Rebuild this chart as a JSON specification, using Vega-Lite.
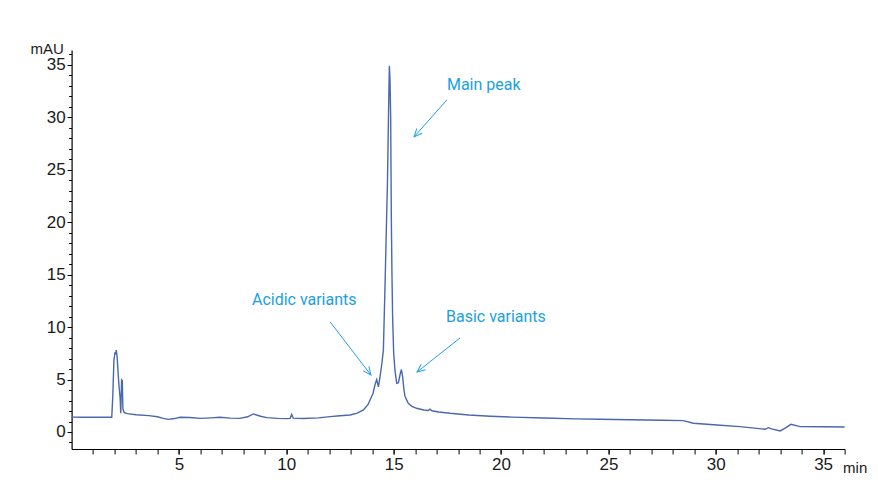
{
  "$schema": "https://vega.github.io/schema/vega-lite/v6.json",
  "width": 773,
  "height": 399,
  "autosize": {"type": "none"},
  "padding": {"left": 71.6, "top": 50, "right": 33, "bottom": 51},
  "background": "white",
  "config": {
    "view": {"stroke": null},
    "font": "Liberation Sans",
    "axis": {
      "grid": false,
      "domainColor": "#000000",
      "domainWidth": 1.2,
      "tickColor": "#000000",
      "labelColor": "#1a1a1a",
      "labelFont": "Liberation Sans",
      "labelFontSize": 17,
      "titleFont": "Liberation Sans",
      "titleFontSize": 15,
      "titleFontWeight": "normal",
      "titleColor": "#1a1a1a"
    }
  },
  "resolve": {"axis": {"x": "independent", "y": "independent"}},
  "datasets": {
    "chrom": [
      {"t": 0, "v": 1.42}, {"t": 0.5, "v": 1.4}, {"t": 1.0, "v": 1.4}, {"t": 1.5, "v": 1.4},
      {"t": 1.87, "v": 1.4}, {"t": 1.92, "v": 3.5}, {"t": 1.97, "v": 6.8}, {"t": 2.02, "v": 7.6},
      {"t": 2.05, "v": 7.4}, {"t": 2.08, "v": 7.8}, {"t": 2.12, "v": 7.2}, {"t": 2.17, "v": 5.5},
      {"t": 2.22, "v": 4.1}, {"t": 2.26, "v": 3.2}, {"t": 2.29, "v": 1.8}, {"t": 2.33, "v": 4.96},
      {"t": 2.36, "v": 4.9}, {"t": 2.39, "v": 2.2}, {"t": 2.45, "v": 1.85}, {"t": 2.6, "v": 1.75},
      {"t": 3.0, "v": 1.65}, {"t": 3.6, "v": 1.56}, {"t": 4.0, "v": 1.45}, {"t": 4.27, "v": 1.3},
      {"t": 4.5, "v": 1.2}, {"t": 4.8, "v": 1.28}, {"t": 5.05, "v": 1.4}, {"t": 5.5, "v": 1.38},
      {"t": 6.0, "v": 1.3}, {"t": 6.5, "v": 1.35}, {"t": 6.9, "v": 1.4}, {"t": 7.4, "v": 1.32},
      {"t": 7.84, "v": 1.3}, {"t": 8.2, "v": 1.45}, {"t": 8.46, "v": 1.72}, {"t": 8.8, "v": 1.5},
      {"t": 9.09, "v": 1.37}, {"t": 9.6, "v": 1.3}, {"t": 10.02, "v": 1.27}, {"t": 10.18, "v": 1.3},
      {"t": 10.25, "v": 1.68}, {"t": 10.32, "v": 1.32}, {"t": 10.8, "v": 1.28}, {"t": 11.5, "v": 1.35},
      {"t": 12.04, "v": 1.46}, {"t": 12.5, "v": 1.55}, {"t": 12.97, "v": 1.62}, {"t": 13.3, "v": 1.8},
      {"t": 13.59, "v": 2.1}, {"t": 13.8, "v": 2.6}, {"t": 13.9, "v": 3.05}, {"t": 14.04, "v": 3.69},
      {"t": 14.13, "v": 4.5}, {"t": 14.21, "v": 5.0}, {"t": 14.29, "v": 4.3}, {"t": 14.38, "v": 5.5},
      {"t": 14.45, "v": 6.5}, {"t": 14.52, "v": 7.8}, {"t": 14.6, "v": 14.2}, {"t": 14.66, "v": 19.5},
      {"t": 14.71, "v": 23.7}, {"t": 14.77, "v": 31.6}, {"t": 14.8, "v": 34.9}, {"t": 14.83, "v": 33.5},
      {"t": 14.86, "v": 30.0}, {"t": 14.89, "v": 20.5}, {"t": 14.92, "v": 15.0}, {"t": 14.95, "v": 11.0},
      {"t": 15.0, "v": 7.5}, {"t": 15.06, "v": 5.9}, {"t": 15.14, "v": 4.64}, {"t": 15.22, "v": 4.7},
      {"t": 15.3, "v": 5.5}, {"t": 15.36, "v": 5.95}, {"t": 15.42, "v": 5.2}, {"t": 15.48, "v": 4.0},
      {"t": 15.53, "v": 3.37}, {"t": 15.68, "v": 2.73}, {"t": 15.85, "v": 2.45}, {"t": 16.07, "v": 2.26},
      {"t": 16.4, "v": 2.1}, {"t": 16.6, "v": 2.05}, {"t": 16.69, "v": 2.18}, {"t": 16.78, "v": 2.02},
      {"t": 17.1, "v": 1.9}, {"t": 17.62, "v": 1.78}, {"t": 18.5, "v": 1.62}, {"t": 19.5, "v": 1.5},
      {"t": 20.5, "v": 1.42}, {"t": 22, "v": 1.33}, {"t": 23.5, "v": 1.25}, {"t": 24.6, "v": 1.21},
      {"t": 26, "v": 1.17}, {"t": 27.5, "v": 1.12}, {"t": 28.49, "v": 1.08}, {"t": 28.96, "v": 0.83},
      {"t": 30.05, "v": 0.67}, {"t": 31.13, "v": 0.51}, {"t": 32.3, "v": 0.26}, {"t": 32.45, "v": 0.41},
      {"t": 32.6, "v": 0.3}, {"t": 33.0, "v": 0.1}, {"t": 33.25, "v": 0.4}, {"t": 33.5, "v": 0.73},
      {"t": 33.93, "v": 0.51}, {"t": 35, "v": 0.5}, {"t": 36, "v": 0.48}
    ],
    "notes": [
      {"name": "main", "label": "Main peak", "tx": 17.48, "ty": 33.1, "t1": 17.48, "v1": 31.65, "t2": 15.95, "v2": 28.12},
      {"name": "acidic", "label": "Acidic variants", "tx": 8.4, "ty": 12.58, "t1": 12.04, "v1": 10.49, "t2": 13.94, "v2": 5.43},
      {"name": "basic", "label": "Basic variants", "tx": 17.44, "ty": 10.96, "t1": 18.09, "v1": 8.96, "t2": 16.09, "v2": 5.72}
    ]
  },
  "layer": [
    {
      "data": {"name": "notes"},
      "mark": {"type": "rule", "color": "#1ba1e2", "strokeWidth": 1},
      "encoding": {
        "x": {
          "field": "t1", "type": "quantitative",
          "axis": {
            "orient": "bottom",
            "values": [1,2,3,4,5,6,7,8,9,10,11,12,13,14,15,16,17,18,19,20,21,22,23,24,25,26,27,28,29,30,31,32,33,34,35,36],
            "labels": false,
            "domain": false,
            "tickSize": 5,
            "title": null
          }
        },
        "y": {
          "field": "v1", "type": "quantitative",
          "axis": {
            "orient": "left",
            "values": [-1,0,1,2,3,4,5,6,7,8,9,10,11,12,13,14,15,16,17,18,19,20,21,22,23,24,25,26,27,28,29,30,31,32,33,34,35,36],
            "labels": false,
            "domain": false,
            "tickSize": 3,
            "title": null
          }
        },
        "x2": {"field": "t2"},
        "y2": {"field": "v2"}
      }
    },
    {
      "data": {"name": "notes"},
      "transform": [{"filter": "datum.name === 'main'"}],
      "mark": {"type": "point", "shape": "M-1,-0.45L0,0L-1,0.45", "filled": false, "color": "#1ba1e2", "strokeWidth": 1, "size": 256, "angle": 131.7, "opacity": 1},
      "encoding": {
        "x": {"field": "t2", "type": "quantitative", "axis": null},
        "y": {"field": "v2", "type": "quantitative", "axis": null}
      }
    },
    {
      "data": {"name": "notes"},
      "transform": [{"filter": "datum.name === 'acidic'"}],
      "mark": {"type": "point", "shape": "M-1,-0.45L0,0L-1,0.45", "filled": false, "color": "#1ba1e2", "strokeWidth": 1, "size": 256, "angle": 52.3, "opacity": 1},
      "encoding": {
        "x": {"field": "t2", "type": "quantitative", "axis": null},
        "y": {"field": "v2", "type": "quantitative", "axis": null}
      }
    },
    {
      "data": {"name": "notes"},
      "transform": [{"filter": "datum.name === 'basic'"}],
      "mark": {"type": "point", "shape": "M-1,-0.45L0,0L-1,0.45", "filled": false, "color": "#1ba1e2", "strokeWidth": 1, "size": 256, "angle": 141.7, "opacity": 1},
      "encoding": {
        "x": {"field": "t2", "type": "quantitative", "axis": null},
        "y": {"field": "v2", "type": "quantitative", "axis": null}
      }
    },
    {
      "data": {"name": "notes"},
      "mark": {"type": "text", "align": "left", "baseline": "middle", "color": "#1ba1e2", "fontSize": 16, "font": "Roboto"},
      "encoding": {
        "x": {"field": "tx", "type": "quantitative", "axis": null},
        "y": {"field": "ty", "type": "quantitative", "axis": null},
        "text": {"field": "label"}
      }
    },
    {
      "data": {"name": "chrom"},
      "mark": {"type": "line", "color": "#4a68ad", "strokeWidth": 1.4, "interpolate": "linear"},
      "encoding": {
        "x": {
          "field": "t", "type": "quantitative",
          "scale": {"domain": [0, 36], "nice": false, "zero": false},
          "axis": {
            "orient": "bottom",
            "values": [5, 10, 15, 20, 25, 30, 35],
            "labelOverlap": false,
            "labelFlush": false,
            "labelFontSize": 17,
            "tickSize": 5,
            "labelPadding": 3,
            "title": "min",
            "titleFontSize": 15,
            "titleAnchor": "start",
            "titleAlign": "left",
            "titleBaseline": "alphabetic",
            "titleX": 771,
            "titleY": 24
          }
        },
        "y": {
          "field": "v", "type": "quantitative",
          "scale": {"domain": [-1.62, 36.4], "nice": false, "zero": false},
          "axis": {
            "orient": "left",
            "values": [0, 5, 10, 15, 20, 25, 30, 35],
            "labelOverlap": false,
            "labelFontSize": 17,
            "tickSize": 4.5,
            "labelPadding": 2,
            "title": "mAU",
            "titleFontSize": 15,
            "titleAngle": 0,
            "titleAlign": "right",
            "titleBaseline": "alphabetic",
            "titleX": -8.3,
            "titleY": 3
          }
        }
      }
    }
  ]
}
